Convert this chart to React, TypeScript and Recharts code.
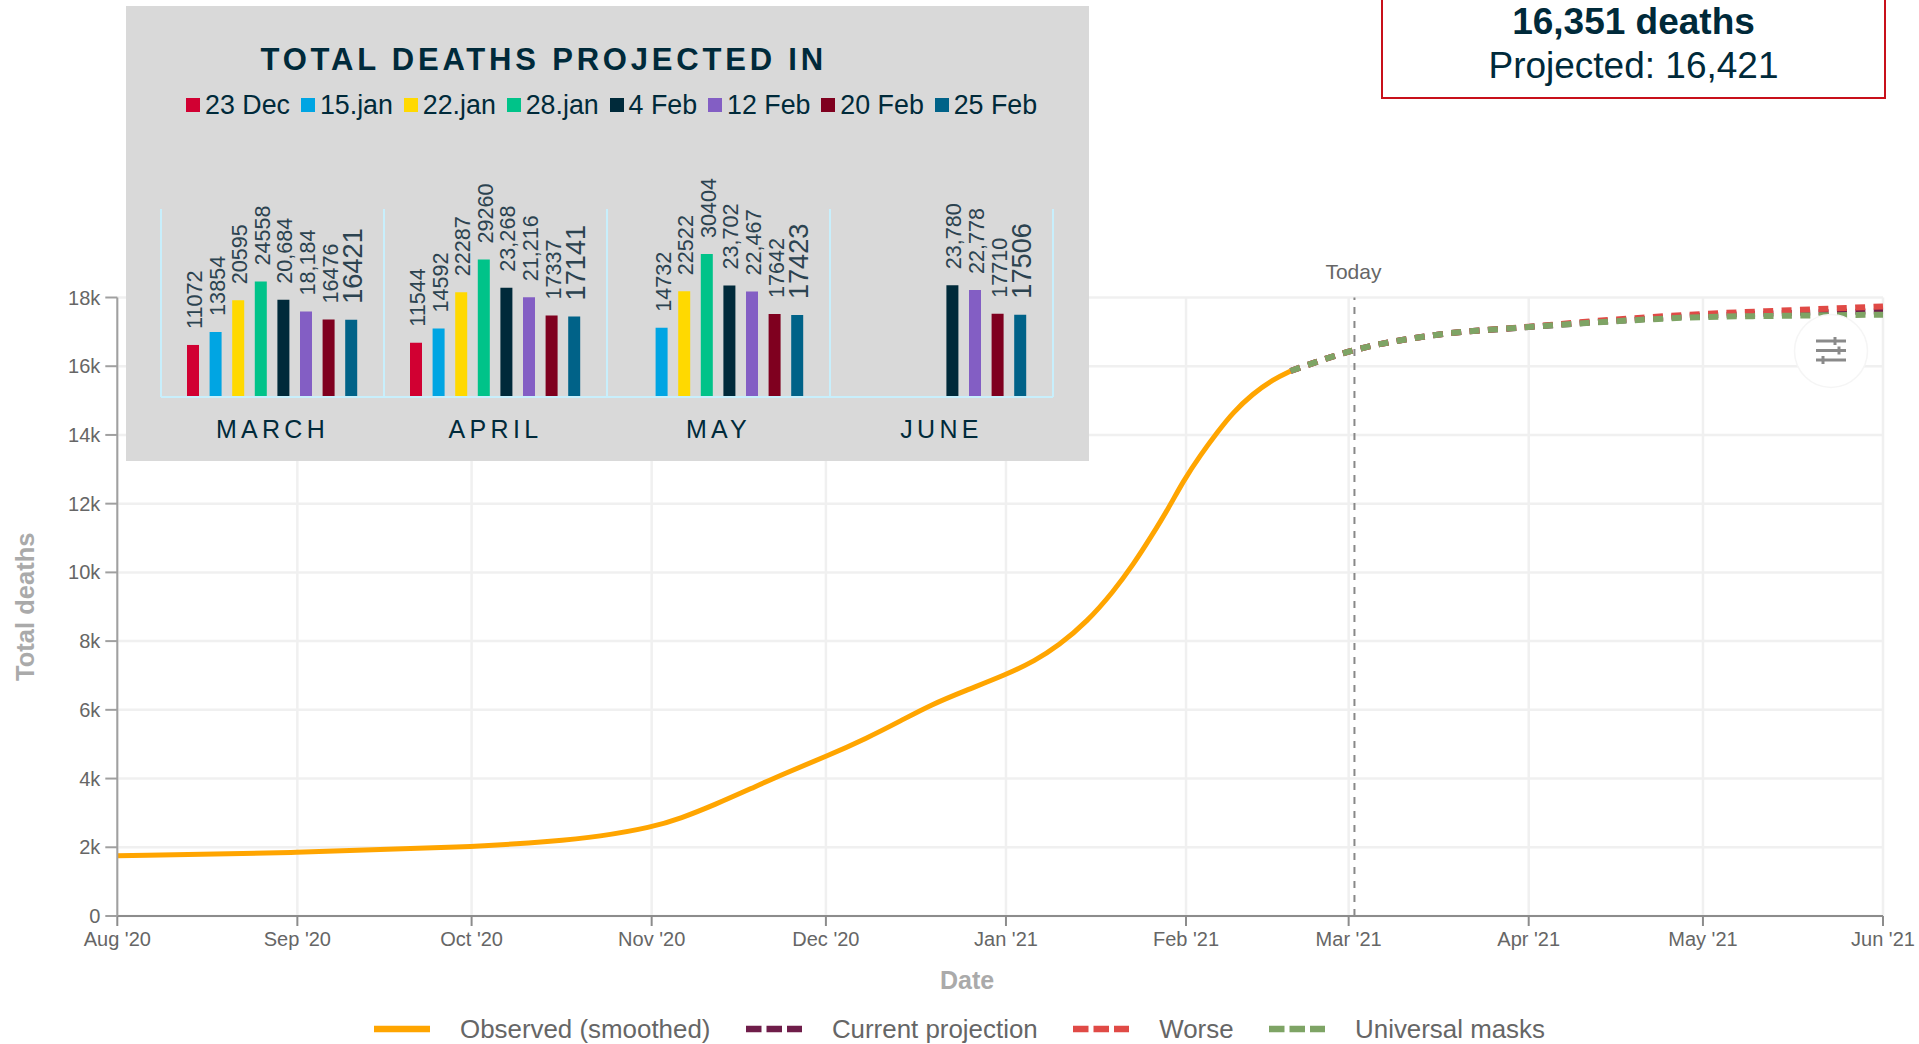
import React from 'react';
import {
  LineChart, Line, BarChart, Bar, XAxis, YAxis, CartesianGrid, Legend, ReferenceLine, LabelList,
} from 'recharts';

const FONT = "'Liberation Sans', Arial, sans-serif";
const INK = '#002a3a';

// ---- main chart data (x = days since 1 Aug 2020)
const tickDays = [0, 31, 61, 92, 122, 153, 184, 212, 243, 273, 304];
const tickLabels = ["Aug '20", "Sep '20", "Oct '20", "Nov '20", "Dec '20", "Jan '21", "Feb '21", "Mar '21", "Apr '21", "May '21", "Jun '21"];
const yTicks = [0, 2000, 4000, 6000, 8000, 10000, 12000, 14000, 16000, 18000];
const todayDay = 213;

const observedDays = [0, 31, 61, 75, 83, 92, 97, 103, 109, 115, 122, 129, 135, 140, 146, 153, 158, 162, 167, 171.5, 175, 178, 181, 183.5, 186.5, 189.5, 192, 195.5, 199, 202];
const observedValues = [1750, 1840, 2010, 2170, 2310, 2580, 2840, 3250, 3700, 4160, 4640, 5170, 5690, 6140, 6560, 7020, 7430, 7860, 8570, 9440, 10250, 11040, 11870, 12650, 13420, 14100, 14640, 15200, 15620, 15860];

const projectionDays = [202, 213, 227, 243, 258, 273, 288, 304];
const currentValues = [15860, 16470, 16910, 17140, 17320, 17470, 17550, 17600];
const worseValues = [15860, 16470, 16910, 17150, 17360, 17520, 17630, 17740];
const maskValues = [15860, 16470, 16910, 17140, 17310, 17430, 17470, 17500];

const OBSERVED = 'Observed (smoothed)';
const CURRENT = 'Current projection';
const WORSE = 'Worse';
const MASKS = 'Universal masks';
const lineNames = [OBSERVED, CURRENT, WORSE, MASKS];

const lineRows = [
  ...observedDays.map((day, i) => ({
    day,
    [OBSERVED]: observedValues[i],
    ...(day === projectionDays[0]
      ? { [CURRENT]: currentValues[0], [WORSE]: worseValues[0], [MASKS]: maskValues[0] }
      : {}),
  })),
  ...projectionDays.slice(1).map((day, i) => ({
    day,
    [CURRENT]: currentValues[i + 1],
    [WORSE]: worseValues[i + 1],
    [MASKS]: maskValues[i + 1],
  })),
];

// ---- inset chart data
const months = ['MARCH', 'APRIL', 'MAY', 'JUNE'];
const dec23 = [11072, 11544, null, null];
const jan15 = [13854, 14592, 14732, null];
const jan22 = [20595, 22287, 22522, null];
const jan28 = [24558, 29260, 30404, null];
const feb4 = [20684, 23268, 23702, 23780];
const feb12 = [18184, 21216, 22467, 22778];
const feb20 = [16476, 17337, 17642, 17710];
const feb25 = [16421, 17141, 17423, 17506];

const insetSeries = [
  { name: '23 Dec', values: dec23, color: '#d10032', comma: false, size: 21.6 },
  { name: '15.jan', values: jan15, color: '#00a5e3', comma: false, size: 21.6 },
  { name: '22.jan', values: jan22, color: '#ffd900', comma: false, size: 21.6 },
  { name: '28.jan', values: jan28, color: '#00c389', comma: false, size: 21.6 },
  { name: '4 Feb', values: feb4, color: '#002a3a', comma: true, size: 21.6 },
  { name: '12 Feb', values: feb12, color: '#835ec4', comma: true, size: 21.6 },
  { name: '20 Feb', values: feb20, color: '#7f001f', comma: false, size: 21.6 },
  { name: '25 Feb', values: feb25, color: '#006288', comma: false, size: 27.2 },
];

const insetRows = months.map((month, i) => {
  const row: Record<string, any> = { month };
  insetSeries.forEach((s) => { row[s.name] = s.values[i]; });
  return row;
});

const lineColors: Record<string, string> = {
  [OBSERVED]: '#ffa500',
  [CURRENT]: '#6f1d4a',
  [WORSE]: '#e04a46',
  [MASKS]: '#7ea465',
};

const MainLegend = () => (
  <div style={{ display: 'flex', justifyContent: 'center', gap: 35.5, fontFamily: FONT, fontSize: 25.9, color: '#666', lineHeight: '36px', whiteSpace: 'nowrap' }}>
    {lineNames.map((name) => (
      <div key={name} style={{ display: 'flex', alignItems: 'center', gap: 30 }}>
        <svg width={56} height={10} style={{ display: 'block' }}>
          <line x1={0} x2={56} y1={5} y2={5} stroke={lineColors[name]} strokeWidth={6.5}
            strokeDasharray={name === OBSERVED ? undefined : '15.5 5'} />
        </svg>
        <span>{name}</span>
      </div>
    ))}
  </div>
);

const InsetLegend = () => (
  <div style={{ display: 'flex', gap: 10.8, fontFamily: FONT, fontSize: 26.8, color: INK, lineHeight: '32px', whiteSpace: 'nowrap' }}>
    {insetSeries.map((s) => (
      <div key={s.name} style={{ display: 'flex', alignItems: 'center', gap: 5.1 }}>
        <span style={{ display: 'block', width: 14, height: 14, background: s.color }} />
        <span>{s.name}</span>
      </div>
    ))}
  </div>
);

const barLabel = (series: typeof insetSeries[number]) => (props: any) => {
  const { x, y, width, value } = props;
  if (value === null || value === undefined) return null;
  const cx = Number(x) + Number(width) / 2 + 1.5;
  const yy = Number(y) - 16;
  const text = series.comma ? Number(value).toLocaleString('en-US') : String(value);
  return (
    <text x={cx} y={yy} transform={`rotate(-90 ${cx} ${yy})`} textAnchor="start" dominantBaseline="central"
      fontFamily={FONT} fontSize={series.size} fill="#2c4350">{text}</text>
  );
};

const MonthTick = (props: any) => {
  const { x, y, payload } = props;
  return (
    <text x={x} y={y + 33} textAnchor="middle" fontFamily={FONT} fontSize={25} letterSpacing={4.3} fill={INK}>
      {payload.value}
    </text>
  );
};

export default function App() {
  return (
    <div style={{ position: 'absolute', left: 0, top: 0, width: 1919, height: 1044, overflow: 'hidden', background: '#fff' }}>
      <div style={{ position: 'absolute', left: 0, top: 0 }}>
        <LineChart width={1919} height={1044} data={lineRows}
          margin={{ top: 297.5, right: 36, bottom: 68, left: 17.3 }}>
          <CartesianGrid stroke="#f0f0f0" strokeWidth={2.5} />
          <XAxis dataKey="day" type="number" domain={[0, 304]} ticks={tickDays} interval={0} height={60}
            tickFormatter={(d: number) => tickLabels[tickDays.indexOf(d)]}
            tick={{ fontFamily: FONT, fontSize: 20, fill: '#666' }} tickSize={10} tickMargin={6}
            stroke="#8c8c8c" strokeWidth={2}
            label={{ value: 'Date', position: 'insideBottom', dx: -33, dy: 15, offset: 2, fontFamily: FONT, fontSize: 25, fontWeight: 700, fill: '#aaaaaa' }} />
          <YAxis type="number" domain={[0, 18000]} ticks={yTicks} interval={0} width={100}
            tickFormatter={(v: number) => (v === 0 ? '0' : `${v / 1000}k`)}
            tick={{ fontFamily: FONT, fontSize: 20, fill: '#666' }} tickSize={12} tickMargin={5}
            stroke="#a0a0a0" strokeWidth={2}
            label={{ value: 'Total deaths', angle: -90, position: 'insideLeft', dx: 3, dy: 0, style: { textAnchor: 'middle' }, fontFamily: FONT, fontSize: 25.5, fontWeight: 700, fill: '#aaaaaa' }} />
          <ReferenceLine x={todayDay} stroke="#888888" strokeWidth={2} strokeDasharray="7 7"
            label={{ value: 'Today', position: 'top', offset: 19, dx: -1, fontFamily: FONT, fontSize: 21, fill: '#666' }} />
          <Line name={OBSERVED} dataKey={OBSERVED} type="basis" stroke={lineColors[OBSERVED]} strokeWidth={5} dot={false} isAnimationActive={false} />
          <Line name={CURRENT} dataKey={CURRENT} type="monotone" stroke={lineColors[CURRENT]} strokeWidth={6} strokeDasharray="10 8.4" dot={false} isAnimationActive={false} />
          <Line name={WORSE} dataKey={WORSE} type="monotone" stroke={lineColors[WORSE]} strokeWidth={6} strokeDasharray="10 8.4" dot={false} isAnimationActive={false} />
          <Line name={MASKS} dataKey={MASKS} type="monotone" stroke={lineColors[MASKS]} strokeWidth={6} strokeDasharray="10 8.4" dot={false} isAnimationActive={false} />
          <Legend layout="horizontal" verticalAlign="middle" align="center" content={MainLegend}
            wrapperStyle={{ left: 0, top: 1011, width: 1919, height: 36 }} />
        </LineChart>
      </div>

      {/* filter button */}
      <svg width={90} height={90} style={{ position: 'absolute', left: 1786, top: 306 }}>
        <circle cx={45} cy={45} r={36.5} fill="#fff" stroke="#f5f5f5" strokeWidth={1.5} />
        <g stroke="#8a8a8a" strokeWidth={3}>
          <line x1={30} x2={60} y1={35} y2={35} />
          <line x1={30} x2={60} y1={44.5} y2={44.5} />
          <line x1={30} x2={60} y1={54} y2={54} />
          <line x1={49} x2={49} y1={31} y2={39} />
          <line x1={53} x2={53} y1={40.5} y2={48.5} />
          <line x1={37} x2={37} y1={50} y2={58} />
        </g>
      </svg>

      {/* red summary box */}
      <div style={{ position: 'absolute', left: 1381, top: -20, width: 501, height: 115, border: '2.5px solid #c8101a', background: '#fff', fontFamily: FONT, color: INK, textAlign: 'center' }}>
        <div style={{ position: 'absolute', left: 0, right: 0, top: 17.5, fontSize: 37, lineHeight: '44px', fontWeight: 700 }}>16,351 deaths</div>
        <div style={{ position: 'absolute', left: 0, right: 0, top: 61.5, fontSize: 37, lineHeight: '44px' }}>Projected: 16,421</div>
      </div>

      {/* inset panel */}
      <div style={{ position: 'absolute', left: 126, top: 6, width: 963, height: 455, background: '#d9d9d9' }}>
        <div style={{ position: 'absolute', left: 134.5, top: 34.5, fontFamily: FONT, fontSize: 31, lineHeight: '38px', fontWeight: 700, letterSpacing: 3.8, color: INK, whiteSpace: 'nowrap' }}>
          TOTAL DEATHS PROJECTED IN
        </div>
        <BarChart width={963} height={455} data={insetRows} barSize={12} barGap={10.6}
          margin={{ top: 203, right: 36, bottom: 0, left: 35 }} style={{ position: 'absolute', left: 0, top: 0 }}>
          <CartesianGrid horizontal={false} stroke="#c8effc" strokeWidth={2}
            verticalCoordinatesGenerator={({ offset }: any) =>
              [0, 1, 2, 3, 4].map((i) => offset.left + (i * offset.width) / months.length)} />
          <XAxis dataKey="month" height={64} tickLine={false} stroke="#c8effc" strokeWidth={2} tick={<MonthTick />} interval={0} />
          <YAxis hide type="number" domain={[0, 40000]} />
          {insetSeries.map((s) => (
            <Bar key={s.name} dataKey={s.name} fill={s.color} isAnimationActive={false}>
              <LabelList dataKey={s.name} content={barLabel(s)} />
            </Bar>
          ))}
          <Legend layout="horizontal" verticalAlign="middle" align="center" content={InsetLegend}
            wrapperStyle={{ left: 60, top: 83, width: 900, height: 32 }} />
        </BarChart>
      </div>
    </div>
  );
}
